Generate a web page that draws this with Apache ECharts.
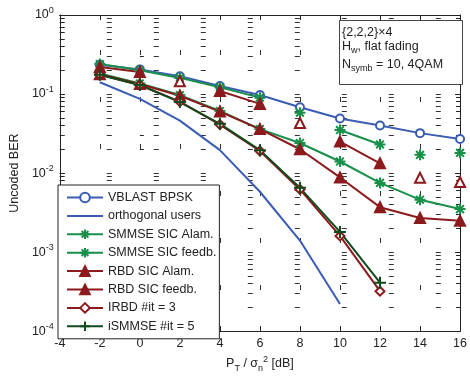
<!DOCTYPE html>
<html>
<head>
<meta charset="utf-8">
<script src="https://cdn.jsdelivr.net/npm/echarts@6/dist/echarts.min.js"></script>
<style>
  html, body { margin: 0; padding: 0; background: #fff; }
  #chart { width: 470px; height: 378px; }
</style>
</head>
<body>
<div id="chart"></div>
<script>
// x positions (dB)
const snrDb = [-2, 0, 2, 4, 6, 8, 10, 12, 14, 16];
// minor log grid multipliers (2..9 x 10^k)
const minorSteps = [2, 3, 4, 5, 6, 7, 8, 9];

// BER values
const vblastBpsk = [0.235, 0.205, 0.168, 0.126, 0.097, 0.068, 0.049, 0.040, 0.032, 0.027];
const orthogonalUsers = [0.141, 0.087, 0.046, 0.0195, 0.0058, 0.0014, 0.00022];
const smmseAlam = [0.24, 0.2, 0.16, 0.122, 0.09, 0.058, 0.035, 0.023, 0.017, 0.018];
const smmseFeedb = [0.182, 0.136, 0.097, 0.061, 0.036, 0.024, 0.014, 0.0075, 0.0046, 0.0035];
const rbdAlam = [0.22, 0.19, 0.145, 0.109, 0.075, 0.043, 0.025, 0.0133, 0.0087, 0.0077];
const rbdFeedb = [0.178, 0.134, 0.095, 0.06, 0.036, 0.020, 0.0088, 0.0037, 0.0027, 0.0025];
const irbd3 = [0.175, 0.13, 0.08, 0.041, 0.019, 0.0062, 0.0016, 0.00032];
const ismmse5 = [0.175, 0.13, 0.079, 0.042, 0.0195, 0.0065, 0.0018, 0.00041];

// the "Alam." curves are drawn broken in the figure: line stops after these indices
const smmseAlamBreaks = [4, 5, 7, 8];
const rbdAlamBreaks = [1, 2, 4, 5, 7, 8];

const BLUE = '#3a5cb2';
const GREEN = '#17904a';
const RED = '#8c1a1c';
const DKGREEN = '#124a1c';
const AXIS = '#222';
const FONT = '"Liberation Sans", Arial, Helvetica, sans-serif';

const asterisk = 'path://M5,0L5,10M0,5L10,5M1.5,1.5L8.5,8.5M8.5,1.5L1.5,8.5';
const plus = 'path://M5,0L5,10M0,5L10,5';

const gridLine = { color: '#333', width: 1, type: [5, 42] };

function buildData(ys, breaks, hollowSymbol) {
  breaks = breaks || [];
  const out = [];
  ys.forEach((y, i) => {
    const isolated = (i === 0 || breaks.includes(i - 1)) && (i === ys.length - 1 || breaks.includes(i));
    if (isolated && hollowSymbol) out.push({ value: [snrDb[i], y], symbol: hollowSymbol });
    else out.push([snrDb[i], y]);
    if (breaks.includes(i)) out.push([snrDb[i] + 1, '-']);
  });
  return out;
}

function curve(name, color, ys, symbol, size, breaks, hollow) {
  return {
    name: name,
    type: 'line',
    data: buildData(ys, breaks, hollow),
    symbol: symbol,
    symbolSize: size,
    showSymbol: symbol !== 'none',
    connectNulls: false,
    lineStyle: { color: color, width: 2 },
    itemStyle: { color: color, borderColor: color, borderWidth: 2 },
    emphasis: { disabled: true },
    z: 3
  };
}

// hidden log axes shifted by 1/m: their decade lines fall on m*10^k of the main axis
function minorAxis(m, position) {
  return {
    type: 'log', logBase: 10, min: 1e-4 / m, max: 1 / m, position: position,
    axisLine: { show: false },
    axisTick: { show: true, inside: true, length: 4, lineStyle: { color: AXIS } },
    axisLabel: { show: false },
    splitLine: { show: position === 'left', showMinLine: false, showMaxLine: false, lineStyle: gridLine },
    silent: true
  };
}

const chart = echarts.init(document.getElementById('chart'), null, { renderer: 'canvas' });

const option = {
  animation: false,
  backgroundColor: '#fff',
  textStyle: { fontFamily: FONT },
  grid: { left: 55, top: 15, right: 5, bottom: 42 },
  xAxis: [
    {
      type: 'value', min: -4, max: 16, interval: 2,
      axisLine: { show: true, onZero: false, lineStyle: { color: AXIS, width: 1 } },
      axisTick: { show: true, inside: true, length: 5, lineStyle: { color: AXIS } },
      axisLabel: { fontSize: 12.5, color: AXIS, margin: 6, fontFamily: FONT },
      splitLine: { show: true, showMinLine: false, showMaxLine: false, lineStyle: Object.assign({ dashOffset: 12 }, gridLine) },
      name: 'P{sub|T} / σ{sub|n}{sup|2} [dB]',
      nameLocation: 'middle',
      nameGap: 21,
      nameTextStyle: {
        fontSize: 12.5, color: AXIS, fontFamily: FONT,
        rich: {
          sub: { fontSize: 9, color: AXIS, padding: [9, 0, 0, 0], fontFamily: FONT },
          sup: { fontSize: 9, color: AXIS, padding: [0, 0, 9, 0], fontFamily: FONT }
        }
      }
    },
    {
      type: 'value', min: -4, max: 16, interval: 2, position: 'top',
      axisLine: { show: true, onZero: false, lineStyle: { color: AXIS, width: 1 } },
      axisTick: { show: true, inside: true, length: 5, lineStyle: { color: AXIS } },
      axisLabel: { show: false },
      splitLine: { show: false }
    }
  ],
  yAxis: [
    {
      type: 'log', logBase: 10, min: 1e-4, max: 1,
      axisLine: { show: true, onZero: false, lineStyle: { color: AXIS, width: 1 } },
      axisTick: { show: true, inside: true, length: 5, lineStyle: { color: AXIS } },
      axisLabel: {
        margin: 6,
        formatter: v => '{b|10}{e|' + Math.round(Math.log10(v)) + '}',
        rich: {
          b: { fontSize: 12.5, color: AXIS, fontFamily: FONT },
          e: { fontSize: 9, color: AXIS, padding: [0, 0, 9, 0], fontFamily: FONT }
        }
      },
      splitLine: { show: true, showMinLine: false, showMaxLine: false, lineStyle: gridLine },
      name: 'Uncoded BER',
      nameLocation: 'middle',
      nameGap: 34,
      nameTextStyle: { fontSize: 12.5, color: AXIS, fontFamily: FONT }
    },
    {
      type: 'log', logBase: 10, min: 1e-4, max: 1, position: 'right',
      axisLine: { show: true, onZero: false, lineStyle: { color: AXIS, width: 1 } },
      axisTick: { show: true, inside: true, length: 5, lineStyle: { color: AXIS } },
      axisLabel: { show: false },
      splitLine: { show: false }
    }
  ].concat(minorSteps.map(m => minorAxis(m, 'left')), minorSteps.map(m => minorAxis(m, 'right'))),
  legend: {
    orient: 'vertical',
    left: 58, top: 185,
    itemWidth: 36, itemHeight: 12, itemGap: 5.4,
    padding: [6, 3, 6, 8],
    backgroundColor: '#fff',
    borderColor: AXIS, borderWidth: 1,
    textStyle: { fontSize: 12.5, color: AXIS, fontFamily: FONT },
    data: [
      'VBLAST BPSK',
      { name: 'orthogonal users', itemStyle: { color: 'rgba(0,0,0,0)', borderColor: 'rgba(0,0,0,0)', borderWidth: 0 } },
      'SMMSE SIC Alam.', 'SMMSE SIC feedb.',
      'RBD SIC Alam.', 'RBD SIC feedb.', 'IRBD #it = 3', 'iSMMSE #it = 5'
    ]
  },
  graphic: [
    { type: 'rect', left: 339, top: 20, z: 10,
      shape: { width: 123, height: 64 },
      style: { fill: '#fff', stroke: '#444', lineWidth: 1 } },
    { type: 'text', left: 342, top: 26, z: 11,
      style: { text: '{2,2,2}×4', fontSize: 12.5, fontFamily: FONT, fill: AXIS } },
    { type: 'text', left: 342, top: 40, z: 11,
      style: { text: 'H{s|w}, flat fading', fontSize: 12.5, fontFamily: FONT, fill: AXIS,
        rich: { s: { fontSize: 9, fontFamily: FONT, fill: AXIS, padding: [9, 0, 0, 0] } } } },
    { type: 'text', left: 342, top: 58, z: 11,
      style: { text: 'N{s|symb} = 10, 4QAM', fontSize: 12.5, fontFamily: FONT, fill: AXIS,
        rich: { s: { fontSize: 9, fontFamily: FONT, fill: AXIS, padding: [9, 0, 0, 0] } } } }
  ],
  series: [
    curve('VBLAST BPSK', BLUE, vblastBpsk, 'emptyCircle', 8),
    curve('orthogonal users', BLUE, orthogonalUsers, 'none', 0),
    curve('SMMSE SIC Alam.', GREEN, smmseAlam, asterisk, 11, smmseAlamBreaks),
    curve('SMMSE SIC feedb.', GREEN, smmseFeedb, asterisk, 11),
    curve('RBD SIC Alam.', RED, rbdAlam, 'triangle', 10, rbdAlamBreaks, 'emptyTriangle'),
    curve('RBD SIC feedb.', RED, rbdFeedb, 'triangle', 10),
    curve('IRBD #it = 3', RED, irbd3, 'emptyDiamond', 9),
    curve('iSMMSE #it = 5', DKGREEN, ismmse5, plus, 12)
  ]
};

chart.setOption(option);
</script>
</body>
</html>
